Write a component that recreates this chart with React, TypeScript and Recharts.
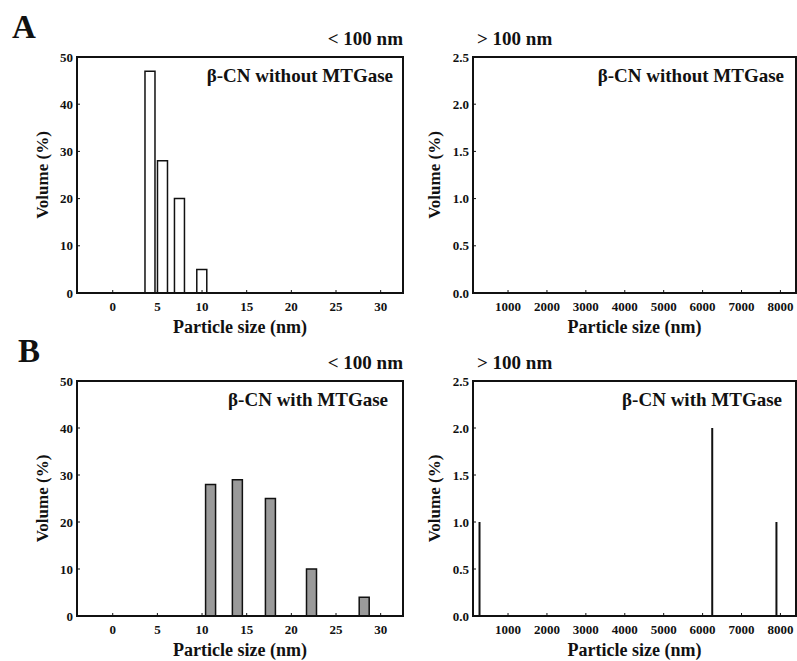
import React from 'react';
import { BarChart, Bar, XAxis, YAxis, ReferenceArea } from 'recharts';

const FONT = '"Liberation Serif", "Times New Roman", Times, serif';

// Panel A (< 100 nm) — β-CN without MTGase
const smallSizesA = [4.2, 5.6, 7.5, 10.0];
const smallVolA = [47, 28, 20, 5];
// Panel A (> 100 nm) — no particles
const largeSizesA: number[] = [];
const largeVolA: number[] = [];
// Panel B (< 100 nm) — β-CN with MTGase
const smallSizesB = [11.0, 14.0, 17.7, 22.3, 28.2];
const smallVolB = [28, 29, 25, 10, 4];
// Panel B (> 100 nm)
const largeSizesB = [270, 6250, 7900];
const largeVolB = [1, 2, 1];

const smallTicksX = [0, 5, 10, 15, 20, 25, 30];
const smallTicksY = [0, 10, 20, 30, 40, 50];
const largeTicksX = [1000, 2000, 3000, 4000, 5000, 6000, 7000, 8000];
const largeTicksY = [0, 0.5, 1.0, 1.5, 2.0, 2.5];

const toRows = (xs: number[], ys: number[]) => xs.map((s, i) => ({ size: s, vol: ys[i] }));

const XTick = (props: any) => {
  const { x, y, payload, tickFormatter } = props;
  const v = tickFormatter ? tickFormatter(payload.value) : String(payload.value);
  return (
    <text x={x} y={y} dy="0.71em" textAnchor="middle" fontFamily={FONT} fontWeight="bold" fontSize={13} fill="#111">{v}</text>
  );
};

const YTick = (props: any) => {
  const { x, y, payload, tickFormatter } = props;
  const v = tickFormatter ? tickFormatter(payload.value) : String(payload.value);
  return (
    <text x={x} y={y} dy="0.35em" textAnchor="end" fontFamily={FONT} fontWeight="bold" fontSize={13} fill="#111">{v}</text>
  );
};

const YTitle = (props: any) => {
  const { viewBox, gap } = props;
  if (!viewBox) return null;
  const cx = viewBox.x + viewBox.width - gap;
  const cy = viewBox.y + viewBox.height / 2;
  return (
    <text x={cx} y={cy} transform={`rotate(-90 ${cx} ${cy})`} textAnchor="middle" dominantBaseline="central"
      fontFamily={FONT} fontWeight="bold" fontSize={17} fill="#111">Volume (%)</text>
  );
};

const XTitle = (props: any) => {
  const { viewBox } = props;
  if (!viewBox) return null;
  return (
    <text x={viewBox.x + viewBox.width / 2} y={viewBox.y + 40} textAnchor="middle"
      fontFamily={FONT} fontWeight="bold" fontSize={18} fill="#111">Particle size (nm)</text>
  );
};

const TopTexts = (props: any) => {
  const { viewBox, note, noteRight, range, rangeSide, letter, letterX } = props;
  if (!viewBox) return null;
  const right = viewBox.x + viewBox.width;
  const top = viewBox.y;
  return (
    <g>
      <text x={right - noteRight} y={top + 25} textAnchor="end" fontFamily={FONT} fontWeight="bold" fontSize={19} fill="#111">{note}</text>
      <text x={rangeSide === 'end' ? right : viewBox.x + 4} y={top - 12} textAnchor={rangeSide === 'end' ? 'end' : 'start'}
        fontFamily={FONT} fontWeight="bold" fontSize={19} fill="#111">{range}</text>
      {letter ? (
        <text x={letterX} y={top - 19} fontFamily={FONT} fontWeight="bold" fontSize={33} fill="#111">{letter}</text>
      ) : null}
    </g>
  );
};

type PanelProps = {
  left: number; top: number; width: number; height: number;
  margin: { top: number; right: number; bottom: number; left: number };
  data: { size: number; vol: number }[];
  xDomain: [number, number]; xTicks: number[];
  yDomain: [number, number]; yTicks: number[]; yFmt: (v: number) => string;
  barSize: number; fill: string; stroke: string; strokeWidth: number;
  note: string; noteRight: number; range: string; rangeSide: 'start' | 'end';
  letter?: string; letterX?: number; yGap: number; topTicks: boolean;
};

const Panel = (p: PanelProps) => (
  <div style={{ position: 'absolute', left: p.left, top: p.top, width: p.width, height: p.height }}>
    <BarChart width={p.width} height={p.height} data={p.data} margin={p.margin}>
      <XAxis xAxisId="b" type="number" dataKey="size" domain={p.xDomain} ticks={p.xTicks} allowDataOverflow
        height={30} tickSize={-3} tickMargin={12} tick={<XTick />}
        axisLine={{ stroke: '#111', strokeWidth: 2, strokeLinecap: 'square' }} tickLine={{ stroke: '#111' }}
        label={<XTitle />} />
      <XAxis xAxisId="t" orientation="top" type="number" dataKey="size" domain={p.xDomain} ticks={p.xTicks} allowDataOverflow
        height={1} tickSize={-3} tick={false} axisLine={false}
        tickLine={p.topTicks ? { stroke: '#111' } : false} />
      <YAxis yAxisId="l" type="number" domain={p.yDomain} ticks={p.yTicks} allowDataOverflow width={40}
        tickSize={-3} tickMargin={7} tick={<YTick />} tickFormatter={p.yFmt}
        axisLine={{ stroke: '#111', strokeWidth: 2, strokeLinecap: 'square' }} tickLine={{ stroke: '#111' }}
        label={<YTitle gap={p.yGap} />} />
      <ReferenceArea xAxisId="b" yAxisId="l" x1={p.xDomain[0]} x2={p.xDomain[1]} y1={p.yDomain[0]} y2={p.yDomain[1]}
        fill="none" fillOpacity={0} stroke="#111" strokeWidth={2} ifOverflow="visible"
        label={<TopTexts note={p.note} noteRight={p.noteRight} range={p.range} rangeSide={p.rangeSide} letter={p.letter} letterX={p.letterX} />} />
      <Bar xAxisId="b" yAxisId="l" dataKey="vol" barSize={p.barSize} fill={p.fill} stroke={p.stroke}
        strokeWidth={p.strokeWidth} isAnimationActive={false} />
    </BarChart>
  </div>
);

export default function App() {
  return (
    <div style={{ position: 'absolute', left: 0, top: 0, width: 797, height: 661, background: '#fff', overflow: 'hidden' }}>
      <Panel left={0} top={0} width={410} height={345}
        margin={{ top: 56, right: 7, bottom: 22, left: 37 }}
        data={toRows(smallSizesA, smallVolA)} xDomain={[-4, 32.5]} xTicks={smallTicksX}
        yDomain={[0, 50]} yTicks={smallTicksY} yFmt={(v) => String(v)}
        barSize={10} fill="#fff" stroke="#111" strokeWidth={1.5}
        note="β-CN without MTGase" noteRight={10} range="< 100 nm" rangeSide="end"
        letter="A" letterX={12} yGap={34.5} topTicks={true} />
      <Panel left={400} top={0} width={397} height={345}
        margin={{ top: 56, right: 1, bottom: 22, left: 33 }}
        data={toRows(largeSizesA, largeVolA)} xDomain={[100, 8400]} xTicks={largeTicksX}
        yDomain={[0, 2.5]} yTicks={largeTicksY} yFmt={(v) => v.toFixed(1)}
        barSize={2} fill="#111" stroke="none" strokeWidth={0}
        note="β-CN without MTGase" noteRight={12} range="> 100 nm" rangeSide="start"
        yGap={38.5} topTicks={false} />
      <Panel left={0} top={330} width={410} height={331}
        margin={{ top: 50, right: 7, bottom: 15, left: 37 }}
        data={toRows(smallSizesB, smallVolB)} xDomain={[-4, 32.5]} xTicks={smallTicksX}
        yDomain={[0, 50]} yTicks={smallTicksY} yFmt={(v) => String(v)}
        barSize={10} fill="#9a9a9a" stroke="#111" strokeWidth={1.5}
        note="β-CN with MTGase" noteRight={15} range="< 100 nm" rangeSide="end"
        letter="B" letterX={18} yGap={34.5} topTicks={true} />
      <Panel left={400} top={330} width={397} height={331}
        margin={{ top: 50, right: 1, bottom: 15, left: 33 }}
        data={toRows(largeSizesB, largeVolB)} xDomain={[100, 8400]} xTicks={largeTicksX}
        yDomain={[0, 2.5]} yTicks={largeTicksY} yFmt={(v) => v.toFixed(1)}
        barSize={2} fill="#111" stroke="none" strokeWidth={0}
        note="β-CN with MTGase" noteRight={14} range="> 100 nm" rangeSide="start"
        yGap={38.5} topTicks={false} />
    </div>
  );
}
